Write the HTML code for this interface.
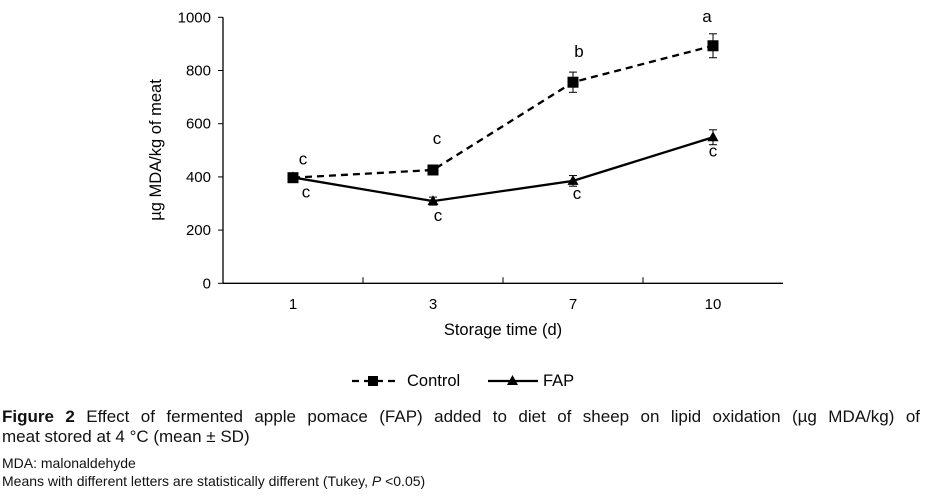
<!DOCTYPE html>
<html><head><meta charset="utf-8"><style>
body{margin:0;background:#fff;width:926px;height:496px;overflow:hidden;font-family:"Liberation Sans",sans-serif;}
svg{position:absolute;left:0;top:0}
.cap{position:absolute;left:2px;font-size:17px;color:#111;line-height:20px}
.j{text-align:justify;text-align-last:justify;width:918px;white-space:nowrap}
</style></head><body>
<svg id="chart" width="926" height="400" font-family="Liberation Sans, sans-serif"></svg>
<div class="cap" style="top:407px"><div class="j" style="white-space:normal"><b>Figure 2</b> Effect of fermented apple pomace (FAP) added to diet of sheep on lipid oxidation (µg MDA/kg) of</div><div>meat stored at 4 °C (mean ± SD)</div></div>
<div class="cap" style="top:455px;font-size:14px;line-height:17px">MDA: malonaldehyde</div>
<div class="cap" style="top:473px;font-size:14px;line-height:17px">Means with different letters are statistically different (Tukey, <i>P</i> &lt;0.05)</div>
<script>
const categories=["1","3","7","10"];
const controlValues=[397,426,756,893];
const controlErr=[15,15,38,45];
const controlLetters=["c","c","b","a"];
const fapValues=[398,309,385,549];
const fapErr=[8,15,20,28];
const fapLetters=["c","c","c","c"];
const yTicks=[0,200,400,600,800,1000];
const svg=document.getElementById('chart');
const NS='http://www.w3.org/2000/svg';
const X0=223,CW=140,Y0=283.3,YH=266;
const xs=i=>X0+CW*(i+0.5);
const ys=v=>Y0-v/1000*YH;
function el(t,a,p){const e=document.createElementNS(NS,t);for(const k in a)e.setAttribute(k,a[k]);(p||svg).appendChild(e);return e;}
let e;
e=el('line',{x1:X0,y1:ys(1000),x2:X0,y2:Y0,stroke:'#000','stroke-width':1.3});

e=el('line',{x1:X0,y1:Y0,x2:X0+CW*4,y2:Y0,stroke:'#000','stroke-width':1.3});

yTicks.forEach(v=>{
 el('line',{x1:X0-5,y1:ys(v),x2:X0,y2:ys(v),stroke:'#000'});
 e=el('text',{x:X0-12,y:ys(v)+5,'text-anchor':'end','font-size':15});e.textContent=v;
 
});
for(let i=1;i<4;i++)el('line',{x1:X0+CW*i,y1:Y0,x2:X0+CW*i,y2:Y0-6,stroke:'#000'});
categories.forEach((c,i)=>{e=el('text',{x:xs(i),y:309,'text-anchor':'middle','font-size':15});e.textContent=c;
 });
e=el('text',{x:503,y:335,'text-anchor':'middle','font-size':16.5});e.textContent='Storage time (d)';

e=el('text',{x:0,y:0,'text-anchor':'middle','font-size':16.5,transform:'translate(161,150) rotate(-90)'});e.textContent='µg MDA/kg of meat';

function series(vals,errs,dash,name){
 e=el('polyline',{points:vals.map((v,i)=>xs(i)+','+ys(v)).join(' '),fill:'none',stroke:'#000','stroke-width':2.3,'stroke-dasharray':dash});
 
 vals.forEach((v,i)=>{const x=xs(i),a=ys(v+errs[i]),b=ys(v-errs[i]);
  el('line',{x1:x,y1:a,x2:x,y2:b,stroke:'#000'});
  el('line',{x1:x-4,y1:a,x2:x+4,y2:a,stroke:'#000'});
  el('line',{x1:x-4,y1:b,x2:x+4,y2:b,stroke:'#000'});});
}
series(controlValues,controlErr,'7,5','control');
series(fapValues,fapErr,'','fap');
controlValues.forEach((v,i)=>{e=el('rect',{x:xs(i)-5.5,y:ys(v)-5.5,width:11,height:11,fill:'#000'});
 });
fapValues.forEach((v,i)=>{const x=xs(i),y=ys(v);e=el('polygon',{points:`${x-5.5},${y+4} ${x+5.5},${y+4} ${x},${y-6}`,fill:'#000'});
 });
const cOff=[[10,-13],[4,-26],[6,-25],[-6,-24]];
controlLetters.forEach((l,i)=>{e=el('text',{x:xs(i)+cOff[i][0],y:ys(controlValues[i])+cOff[i][1],'text-anchor':'middle','font-size':17});e.textContent=l;
 });
const fOff=[[13,20],[5,20],[4,18],[0,19]];
fapLetters.forEach((l,i)=>{e=el('text',{x:xs(i)+fOff[i][0],y:ys(fapValues[i])+fOff[i][1],'text-anchor':'middle','font-size':17});e.textContent=l;
 });
const lg=el('g',{});
el('line',{x1:352,y1:381,x2:395,y2:381,stroke:'#000','stroke-width':2.3,'stroke-dasharray':'7,5'},lg);
el('rect',{x:368,y:376,width:10,height:10,fill:'#000'},lg);
e=el('text',{x:407,y:386,'font-size':16.5},lg);e.textContent='Control';
el('line',{x1:488,y1:381,x2:538,y2:381,stroke:'#000','stroke-width':2.3},lg);
el('polygon',{points:'507,385 518,385 512.5,375',fill:'#000'},lg);
e=el('text',{x:543,y:386,'font-size':16.5},lg);e.textContent='FAP';
</script>
</body></html>
